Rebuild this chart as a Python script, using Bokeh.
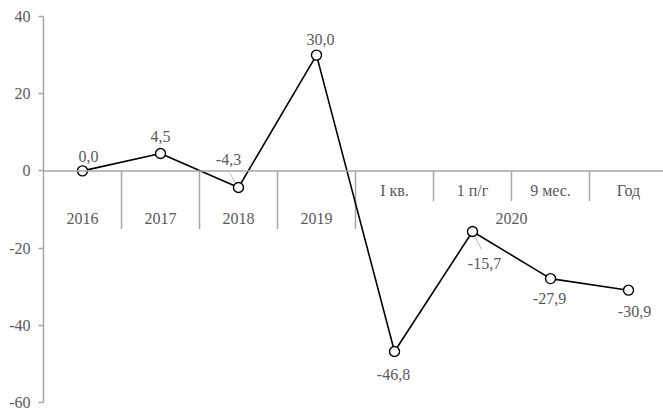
from bokeh.plotting import figure
from bokeh.models import Range1d, FixedTicker, ColumnDataSource, Span
from bokeh.core.properties import value
from bokeh.embed import file_html
from bokeh.resources import INLINE

# ---- data ----
categories = ["2016", "2017", "2018", "2019", "I кв.", "1 п/г", "9 мес.", "Год"]
groups = ["2016", "2017", "2018", "2019", "2020"]
group_sizes = [1, 1, 1, 1, 4]
values = [0.0, 4.5, -4.3, 30.0, -46.8, -15.7, -27.9, -30.9]
labels = ["0,0", "4,5", "-4,3", "30,0", "-46,8", "-15,7", "-27,9", "-30,9"]
y_ticks = [-60, -40, -20, 0, 20, 40]
y_tick_labels = ["-60", "-40", "-20", "0", "20", "40"]

# ---- style ----
FONT = "Liberation Serif"
TXT = "#595959"
AX = "#a6a6a6"
FS = "16px"
W, H = 663, 411
LEFT, TOP, BOTTOM = 43, 16, 9
UNIT_PX = 78.0
frame_w = W - LEFT
frame_h = H - TOP - BOTTOM
ymin, ymax = -60, 40
ppu_y = frame_h / (ymax - ymin)

# label pixel offsets (dx, dy; +dy = down)
lab_dx = [6, 0, -10, 4, -1, 12, -1, 6]
lab_dy = [-14, -17, -28, -16, 23, 32, 20, 21]
# leader lines (px offsets from point): index -> (x0,y0,x1,y1)
leaders = {2: (-2.5, -4, -9, -15), 5: (2, 4, 9, 18)}

p = figure(width=W, height=H, output_backend="svg", toolbar_location=None,
           x_range=Range1d(0, frame_w / UNIT_PX), y_range=Range1d(ymin, ymax),
           min_border_left=LEFT, min_border_right=0, min_border_top=TOP,
           min_border_bottom=BOTTOM, x_axis_location=None)
p.outline_line_color = None
p.grid.visible = False
p.background_fill_color = "white"
p.border_fill_color = "white"

ya = p.yaxis[0]
ya.ticker = FixedTicker(ticks=y_ticks)
ya.major_label_overrides = {t: l for t, l in zip(y_ticks, y_tick_labels)}
ya.axis_line_color = AX
ya.axis_line_width = 1.5
ya.major_tick_line_color = AX
ya.major_tick_line_width = 1.5
ya.major_tick_out = 5
ya.major_tick_in = 0
ya.minor_tick_line_color = None
ya.major_label_standoff = 8
ya.major_label_text_font = FONT
ya.major_label_text_font_size = FS
ya.major_label_text_color = TXT

# horizontal category axis at y=0
p.add_layout(Span(location=0, dimension="width", line_color=AX, line_width=1.5))

n = len(categories)
xs = [i + 0.5 for i in range(n)]

# separators
long_px, short_px = 58, 30
sep_x, sep_y1 = [], []
start = 0
bounds = []
for g, s in zip(groups, group_sizes):
    if s > 1:
        for k in range(1, s):
            sep_x.append(start + k)
            sep_y1.append(-short_px / ppu_y)
    start += s
    bounds.append(start)
for b in bounds[:-1]:
    sep_x.append(b)
    sep_y1.append(-long_px / ppu_y)
p.segment(x0=sep_x, y0=[0] * len(sep_x), x1=sep_x, y1=sep_y1, line_color=AX, line_width=1.5)

# category labels
start = 0
row1_x, row1_t, row2_x, row2_t = [], [], [], []
for g, s in zip(groups, group_sizes):
    if s == 1:
        row2_x.append(start + 0.5)
        row2_t.append(categories[start])
    else:
        for k in range(s):
            row1_x.append(start + k + 0.5)
            row1_t.append(categories[start + k])
        row2_x.append(start + s / 2)
        row2_t.append(g)
    start += s
p.text(x=row1_x, y=[0] * len(row1_x), text=row1_t, y_offset=20, text_align="center",
       text_baseline="middle", text_font=value(FONT), text_font_size=FS, text_color=TXT)
p.text(x=row2_x, y=[0] * len(row2_x), text=row2_t, y_offset=48, text_align="center",
       text_baseline="middle", text_font=value(FONT), text_font_size=FS, text_color=TXT)

# leader lines
lx0, ly0, lx1, ly1 = [], [], [], []
for i, (a, b, c, d) in leaders.items():
    lx0.append(xs[i] + a / UNIT_PX)
    ly0.append(values[i] - b / ppu_y)
    lx1.append(xs[i] + c / UNIT_PX)
    ly1.append(values[i] - d / ppu_y)
p.segment(x0=lx0, y0=ly0, x1=lx1, y1=ly1, line_color="#bfbfbf", line_width=1)

# series
src = ColumnDataSource(dict(x=xs, y=values, lab=labels, dx=lab_dx, dy=lab_dy))
p.line("x", "y", source=src, line_color="black", line_width=1.6)
p.scatter("x", "y", source=src, size=10, fill_color="white", line_color="black", line_width=1.4)
p.text("x", "y", text="lab", source=src, x_offset="dx", y_offset="dy", text_align="center",
       text_baseline="middle", text_font=value(FONT), text_font_size=FS, text_color=TXT)

open("out.html", "w").write(file_html(p, INLINE))
